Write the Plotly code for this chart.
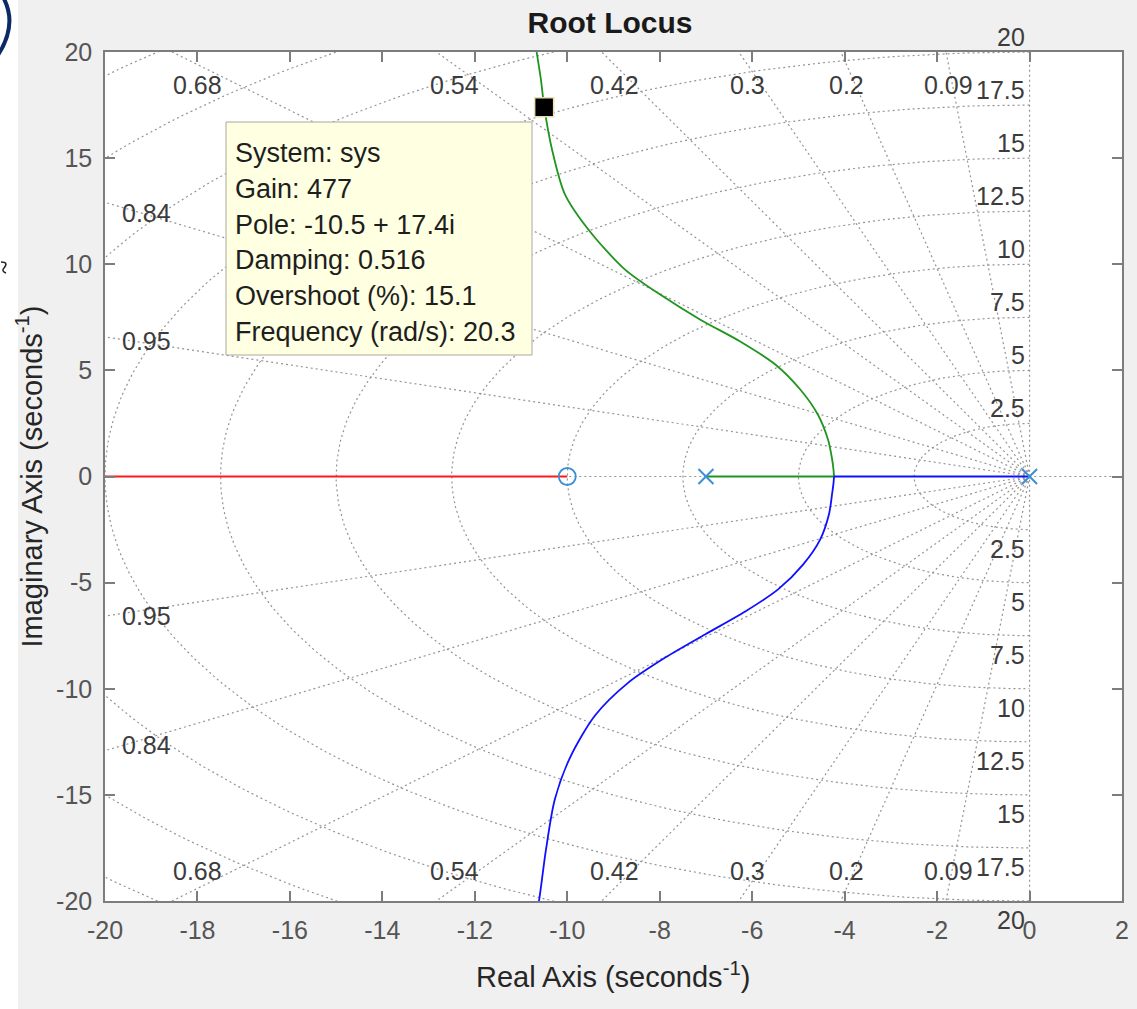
import numpy as np
import plotly.graph_objects as go

# ---------------- data ----------------
zeta_vals = [0.09, 0.2, 0.3, 0.42, 0.54, 0.68, 0.84, 0.95]
zeta_top_labels = ["0.09", "0.2", "0.3", "0.42", "0.54", "0.68"]
zeta_side_labels = ["0.84", "0.95"]
wn_vals = [2.5, 5, 7.5, 10, 12.5, 15, 17.5, 20, 22.5, 25, 27.5, 30]
wn_labels = ["2.5", "5", "7.5", "10", "12.5", "15", "17.5", "20"]

pole_re = [0.0, -7.0]
zero_re = [-10.0]

# branch from pole -7 (green): along real axis, then up
green_re = [-7.0, -4.23, -4.24, -4.27, -4.36, -4.58, -4.96, -5.50, -6.26, -7.13, -7.99,
            -8.75, -9.51, -10.05, -10.33, -10.50, -10.57, -10.70]
green_im = [0.0, 0.0, 0.30, 0.80, 1.74, 2.92, 4.10, 5.28, 6.36, 7.40, 8.57,
            9.75, 11.54, 13.29, 15.41, 17.43, 18.70, 20.50]
# branch from pole 0 (blue): along real axis, then down
blue_re = [0.0, -4.23, -4.24, -4.27, -4.34, -4.53, -4.90, -5.44, -6.15, -7.02, -7.88,
           -8.68, -9.40, -9.94, -10.27, -10.46, -10.61, -10.66]
blue_im = [0.0, 0.0, -0.30, -0.80, -1.79, -2.97, -4.15, -5.32, -6.36, -7.44, -8.53,
           -9.71, -11.26, -13.24, -15.22, -17.57, -19.97, -20.50]
# branch ending at zero -10 (red), coming from a far-left pole
red_re = [-10.0, -30.0]
red_im = [0.0, 0.0]

tip_re, tip_im = -10.5, 17.4
tip_lines = ["System: sys", "Gain: 477", "Pole: -10.5 + 17.4i",
             "Damping: 0.516", "Overshoot (%): 15.1", "Frequency (rad/s): 20.3"]

x_ticks = [-20, -18, -16, -14, -12, -10, -8, -6, -4, -2, 0, 2]
x_tick_labels = ["-20", "-18", "-16", "-14", "-12", "-10", "-8", "-6", "-4", "-2", "0", "2"]
y_ticks = [-20, -15, -10, -5, 0, 5, 10, 15, 20]
y_tick_labels = ["-20", "-15", "-10", "-5", "0", "5", "10", "15", "20"]

# ---------------- styling ----------------
FONT = "Liberation Sans, Arial, Helvetica, sans-serif"
W, H = 1137, 1009
L, R, T, B = 105, 15, 52, 108
GRID = dict(color="#949494", width=1.2, dash="2px,3px")
AXC = "#7d7d7d"

fig = go.Figure()

# ---- s-grid: damping rays ----
gx, gy = [], []
for z in zeta_vals:
    th = np.arccos(z)
    for s in (1, -1):
        gx += [0, -45 * np.cos(th), None]
        gy += [0, s * 45 * np.sin(th), None]
gx += [0, 0, None, -45, 5, None]
gy += [-45, 45, None, 0, 0, None]
# ---- s-grid: natural frequency semicircles ----
phi = np.linspace(np.pi / 2, 3 * np.pi / 2, 241)
for wn in wn_vals:
    gx += list(wn * np.cos(phi)) + [None]
    gy += list(wn * np.sin(phi)) + [None]
fig.add_trace(go.Scatter(x=gx, y=gy, mode="lines", line=GRID, hoverinfo="skip",
                         showlegend=False))

# ---- locus branches ----
fig.add_trace(go.Scatter(x=red_re, y=red_im, mode="lines",
                         line=dict(color="#ff1a1a", width=1.8), showlegend=False))
for bx, by, col in ((green_re, green_im, "#1f951f"), (blue_re, blue_im, "#1010ff")):
    # real-axis segment
    fig.add_trace(go.Scatter(x=bx[:2], y=by[:2], mode="lines",
                             line=dict(color=col, width=1.8), showlegend=False))
    # complex part after the breakaway point
    fig.add_trace(go.Scatter(x=bx[1:], y=by[1:], mode="lines",
                             line=dict(color=col, width=1.8, shape="spline", smoothing=0.8),
                             showlegend=False))

# ---- poles & zeros ----
fig.add_trace(go.Scatter(x=zero_re, y=[0] * len(zero_re), mode="markers",
                         marker=dict(symbol="circle-open", size=17, color="#3d8fd6",
                                     line=dict(width=1.8, color="#3d8fd6")),
                         showlegend=False))
fig.add_trace(go.Scatter(x=pole_re, y=[0] * len(pole_re), mode="markers",
                         marker=dict(symbol="x-thin-open", size=15, color="#3d8fd6",
                                     line=dict(width=2, color="#3d8fd6")),
                         showlegend=False, cliponaxis=False))

# ---- data tip marker ----
fig.add_trace(go.Scatter(x=[tip_re], y=[tip_im], mode="markers",
                         marker=dict(symbol="square", size=19, color="black",
                                     line=dict(width=1.5, color="#e8e0b0")),
                         showlegend=False))

annotations = []
gl_font = dict(family=FONT, size=25, color="#3c3c3c")
# zeta labels top / bottom
for z, lab in zip(zeta_vals[:6], zeta_top_labels):
    xl = -19.4 / np.tan(np.arccos(z))
    for yl in (18.45, -18.6):
        annotations.append(dict(x=xl, y=yl, text=lab, showarrow=False, font=gl_font,
                                xanchor="center", yanchor="middle"))
# zeta labels on the left side
for z, lab in zip(zeta_vals[6:], zeta_side_labels):
    yl = 19.1 * np.tan(np.arccos(z))
    for s in (1, -1):
        annotations.append(dict(x=-19.1, y=s * yl + (0.1 if s > 0 else -0.3), text=lab,
                                showarrow=False, font=gl_font,
                                xanchor="center", yanchor="middle"))
# wn labels along imaginary axis
for wn, lab in zip(wn_vals, wn_labels):
    annotations.append(dict(x=-0.05, y=wn, text=lab, showarrow=False, font=gl_font,
                            xanchor="right", yanchor="middle", yshift=15))
    annotations.append(dict(x=-0.05, y=-wn, text=lab, showarrow=False, font=gl_font,
                            xanchor="right", yanchor="middle", yshift=-19))

# ---- data tip box ----
def px2x(px):
    return (px - L) / (W - L - R) * 22 - 20

def py2y(py):
    return 20 - (py - T) / (H - T - B) * 40

shapes = [
    dict(type="rect", xref="x", yref="y", x0=px2x(226), x1=px2x(532),
         y0=py2y(355), y1=py2y(122), fillcolor="#ffffe1",
         line=dict(color="#a8a8a0", width=1), layer="above"),
]
for i, t in enumerate(tip_lines):
    annotations.append(dict(x=px2x(233), y=py2y(153 + 35.8 * i), text=t, showarrow=False,
                            xanchor="left", yanchor="middle",
                            font=dict(family=FONT, size=27, color="#1e1e1e")))

# ---- axis titles ----
annotations.append(dict(xref="paper", yref="paper", x=(613 - L) / (W - L - R),
                        y=-(975 - (H - B)) / (H - T - B),
                        text="Real Axis (seconds<sup>-1</sup>)", showarrow=False,
                        xanchor="center", yanchor="middle",
                        font=dict(family=FONT, size=29, color="#262626")))
annotations.append(dict(xref="paper", yref="paper", x=(29 - L) / (W - L - R), y=0.5,
                        text="Imaginary Axis (seconds<sup>-1</sup>)", showarrow=False,
                        textangle=-90, xanchor="center", yanchor="middle",
                        font=dict(family=FONT, size=29, color="#262626")))

# ---- decoration from the original screenshot (left white strip + arc) ----
def pxp(px):
    return (px - L) / (W - L - R)

def pyp(py):
    return (H - B - py) / (H - T - B)

shapes.append(dict(type="rect", xref="paper", yref="paper", x0=pxp(-2), x1=pxp(18),
                   y0=pyp(H + 2), y1=pyp(-2), fillcolor="white", line_width=0,
                   layer="below"))
shapes.append(dict(type="path", xref="paper", yref="paper",
                   path=f"M {pxp(3)},{pyp(-3)} Q {pxp(18)},{pyp(24)} {pxp(-2)},{pyp(55)}",
                   line=dict(color="#0c2a66", width=4)))
shapes.append(dict(type="path", xref="paper", yref="paper",
                   path=f"M {pxp(1)},{pyp(262)} Q {pxp(9)},{pyp(262)} {pxp(4)},{pyp(268)} "
                        f"Q {pxp(1)},{pyp(271)} {pxp(6)},{pyp(273)}",
                   line=dict(color="#222222", width=1.5)))

axis_common = dict(showgrid=False, zeroline=False, showline=True, linecolor=AXC,
                   linewidth=1.5, mirror="ticks", ticks="inside", ticklen=10,
                   tickcolor=AXC, tickwidth=1.5,
                   tickfont=dict(family=FONT, size=25, color="#555555"))

fig.update_layout(
    width=W, height=H,
    margin=dict(l=L, r=R, t=T, b=B, autoexpand=False),
    paper_bgcolor="#f0f0f0", plot_bgcolor="white",
    title=dict(text="<b>Root Locus</b>", x=(610) / W, xanchor="center",
               y=1 - 22 / H, yanchor="middle", yref="container",
               font=dict(family=FONT, size=30, color="#1a1a1a")),
    xaxis=dict(range=[-20, 2], tickvals=x_ticks, ticktext=x_tick_labels,
               ticklabelstandoff=6, **axis_common),
    yaxis=dict(range=[-20, 20], tickvals=y_ticks, ticktext=y_tick_labels,
               ticklabelstandoff=6, **axis_common),
    annotations=annotations, shapes=shapes, showlegend=False,
)

fig.write_html("out.html")
